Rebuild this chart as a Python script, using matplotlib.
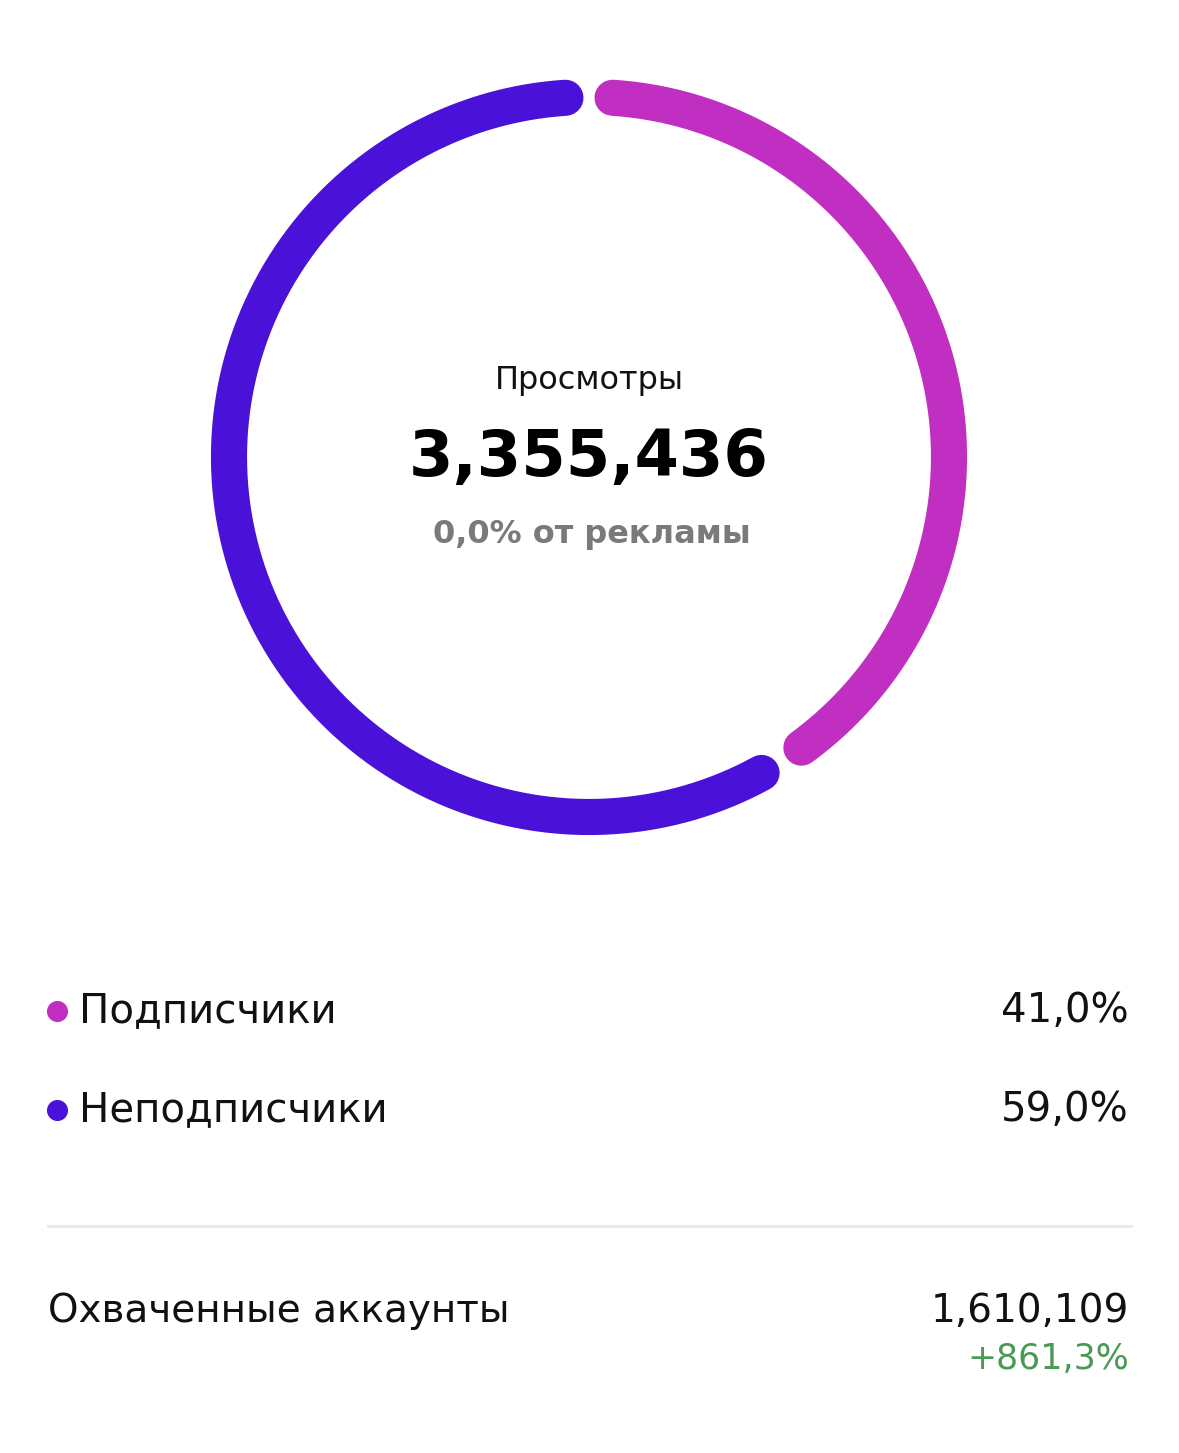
import numpy as np
import matplotlib
matplotlib.use("Agg")
import matplotlib.pyplot as plt

categories = ["Подписчики", "Неподписчики"]
shares = [41.0, 59.0]
share_labels = ["41,0%", "59,0%"]
colors = ["#C02EC2", "#4A12D8"]
title = "Просмотры"
total = "3,355,436"
ads = "0,0% от рекламы"
reach_label = "Охваченные аккаунты"
reach_value = "1,610,109"
reach_change = "+861,3%"

W, H = 1179, 1453
fig = plt.figure(figsize=(W/100, H/100), dpi=100)
ax = fig.add_axes([0, 0, 1, 1])
ax.set_xlim(0, W); ax.set_ylim(H, 0); ax.axis("off")

cx, cy, r = 589, 457, 360
gap = 4.5
start = 90.0
for s, c in zip(shares, colors):
    sweep = s / 100 * 360
    a0 = start - gap/2 - 1.5
    a1 = start - sweep + gap/2 + 1.5
    t = np.radians(np.linspace(a0, a1, 400))
    ax.plot(cx + r*np.cos(t), cy - r*np.sin(t), color=c, lw=26,
            solid_capstyle="round")
    start -= sweep

ax.text(cx, 381, title, ha="center", va="center", fontsize=23, color="#111")
ax.text(cx, 458, total, ha="center", va="center", fontsize=46, fontweight="bold", color="#000")
ax.text(cx+3, 534, ads, ha="center", va="center", fontsize=23, fontweight="bold", color="#7a7a7a")

for i, (cat, lab, c) in enumerate(zip(categories, share_labels, colors)):
    y = 1011 + i*99
    ax.scatter([57], [y], s=200, color=c)
    ax.text(79, y, cat, ha="left", va="center", fontsize=29, color="#111")
    ax.text(1129, y, lab, ha="right", va="center", fontsize=29, color="#111")

ax.plot([48, 1131], [1226, 1226], color="#e8e8e8", lw=2)
ax.text(48, 1311, reach_label, ha="left", va="center", fontsize=28, color="#111")
ax.text(1129, 1311, reach_value, ha="right", va="center", fontsize=28, color="#111")
ax.text(1129, 1359, reach_change, ha="right", va="center", fontsize=25, color="#4a9a55")

fig.savefig("out.png", dpi=100)
